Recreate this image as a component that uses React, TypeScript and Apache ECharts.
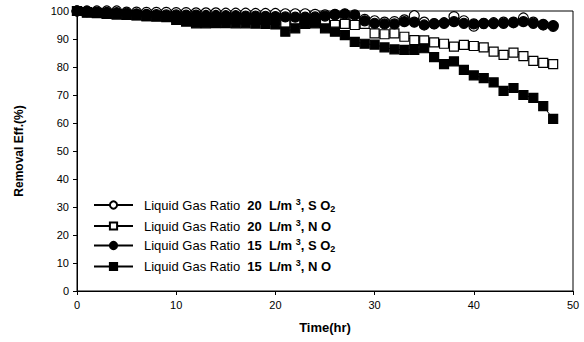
import React, { useEffect, useRef } from "react";
import * as echarts from "echarts";

const timeHr = [
  0, 1, 2, 3, 4, 5, 6, 7, 8, 9, 10, 11, 12, 13, 14, 15, 16, 17, 18, 19, 20, 21, 22, 23, 24,
  25, 26, 27, 28, 29, 30, 31, 32, 33, 34, 35, 36, 37, 38, 39, 40, 41, 42, 43, 44, 45, 46, 47, 48,
];

const so2Ratio20 = [
  100, 100, 100, 100, 100, 99.6, 99.6, 99.5, 99.5, 99.5, 99.4, 99.4, 99.3, 99.3, 99.3,
  99.2, 99.2, 99.2, 99.1, 99.1, 99.1, 99, 99, 99, 98.8, 98.6, 98.6, 98.4, 97.5, 97,
  96.5, 96, 96.2, 96.8, 98.3, 96, 95.5, 95.8, 98, 96.5, 94.6, 95.5, 95.8, 96, 96,
  97.5, 96, 95, 94.5,
];

const noRatio20 = [
  100, 99.6, 99.3, 99, 98.8, 98.6, 98.4, 98.2, 98, 97.8, 97.6, 97.4, 97.2, 97, 97,
  97, 97, 96.9, 96.9, 96.8, 96.8, 95.8, 96.8, 96.8, 96.2, 96.2, 95, 95.4, 95, 95.4,
  92, 91.7, 92, 90.8, 89.6, 89.5, 88.8, 88.3, 87.3, 87.9, 87.5, 87, 85.5, 84.3, 85.1,
  83.9, 82.2, 81.5, 81,
];

const so2Ratio15 = [
  100, 99.8, 99.6, 99.5, 99.4, 99.2, 99, 98.8, 98.7, 98.6, 98.6, 98.5, 98.5, 98.4, 98.4,
  98.3, 98.3, 98.2, 98.2, 98.1, 98, 97.9, 97.8, 97.8, 97.9, 98.2, 98.8, 99, 98.6, 96.5,
  95.6, 95.4, 95.4, 96.2, 96, 95, 95.4, 95.6, 96.2, 95.6, 95.4, 95.6, 95.5, 95.6, 95.8,
  96.2, 95.6, 95.2, 94.8,
];

const noRatio15 = [
  100, 99.4, 99.2, 99, 98.8, 98.6, 98.5, 98.2, 98.2, 98, 96.8, 96.2, 95.6, 95.6, 95.7,
  95.7, 95.6, 95.6, 95.5, 95.4, 95.2, 92.6, 93.8, 95.4, 95.6, 93.8, 92.6, 91.4, 89, 88.3,
  88, 87, 86.3, 86.1, 86.1, 86.7, 83.5, 81, 82, 79, 77, 76, 74.5, 71.5, 72.5,
  70, 69, 66, 61.5,
];

const seriesNames = [
  "Liquid Gas Ratio 20 L/m3, SO2",
  "Liquid Gas Ratio 20 L/m3, NO",
  "Liquid Gas Ratio 15 L/m3, SO2",
  "Liquid Gas Ratio 15 L/m3, NO",
];
const legendRich = [
  "{n|Liquid Gas Ratio  }{b|20  L/m }{sup|3}{b|, S O}{sub|2}",
  "{n|Liquid Gas Ratio  }{b|20  L/m }{sup|3}{b|, N O}",
  "{n|Liquid Gas Ratio  }{b|15  L/m }{sup|3}{b|, S O}{sub|2}",
  "{n|Liquid Gas Ratio  }{b|15  L/m }{sup|3}{b|, N O}",
];

const xTicks = [0, 10, 20, 30, 40, 50];
const yTicks = [0, 10, 20, 30, 40, 50, 60, 70, 80, 90, 100];

const FONT = "Liberation Sans, Arial, sans-serif";

export default function App() {
  const ref = useRef<HTMLDivElement>(null);
  useEffect(() => {
    if (!ref.current) return;
    const chart = echarts.init(ref.current, null, { renderer: "svg" });
    const toPairs = (vals: number[]) => timeHr.map((t, i) => [t, vals[i]]);
    const styles = [
      { data: so2Ratio20, symbol: "circle", fill: "#ffffff", size: 10 },
      { data: noRatio20, symbol: "rect", fill: "#ffffff", size: 9 },
      { data: so2Ratio15, symbol: "circle", fill: "#000000", size: 10 },
      { data: noRatio15, symbol: "rect", fill: "#000000", size: 9 },
    ];
    chart.setOption({
      animation: false,
      backgroundColor: "#ffffff",
      textStyle: { fontFamily: FONT },
      grid: {
        left: 77,
        right: 11,
        top: 11,
        bottom: 51,
        show: true,
        borderColor: "#000",
        borderWidth: 1,
      },
      legend: {
        orient: "vertical",
        left: 88,
        top: 192,
        itemWidth: 39,
        itemHeight: 9,
        itemGap: 5,
        data: seriesNames,
        formatter: (name: string) => legendRich[seriesNames.indexOf(name)],
        textStyle: {
          color: "#000",
          fontFamily: FONT,
          rich: {
            n: { fontSize: 13, color: "#000", fontFamily: FONT, lineHeight: 16, padding: [0, 0, 0, 6] },
            b: { fontSize: 13, fontWeight: "bold", color: "#000", fontFamily: FONT, lineHeight: 16 },
            sup: { fontSize: 9, fontWeight: "bold", color: "#000", fontFamily: FONT, verticalAlign: "top", lineHeight: 16 },
            sub: { fontSize: 9, fontWeight: "bold", color: "#000", fontFamily: FONT, verticalAlign: "bottom", lineHeight: 16 },
          },
        },
      },
      xAxis: {
        type: "value",
        min: xTicks[0],
        max: xTicks[xTicks.length - 1],
        interval: 10,
        name: "Time(hr)",
        nameLocation: "middle",
        nameGap: 30,
        nameTextStyle: { fontSize: 13, fontWeight: "bold", color: "#000", fontFamily: FONT },
        axisLine: { lineStyle: { color: "#000", width: 1 } },
        axisTick: { show: true, inside: false, length: 4, lineStyle: { color: "#000" } },
        axisLabel: { color: "#000", fontSize: 11, margin: 8, fontFamily: FONT },
        splitLine: { show: false },
      },
      yAxis: {
        type: "value",
        min: yTicks[0],
        max: yTicks[yTicks.length - 1],
        interval: 10,
        name: "Removal Eff.(%)",
        nameLocation: "middle",
        nameGap: 52,
        nameRotate: 90,
        nameTextStyle: { fontSize: 12, fontWeight: "bold", color: "#000", fontFamily: FONT },
        axisLine: { show: true, lineStyle: { color: "#000", width: 1 } },
        axisTick: { show: true, inside: false, length: 4, lineStyle: { color: "#000" } },
        axisLabel: { color: "#000", fontSize: 11, margin: 8, fontFamily: FONT },
        splitLine: { show: false },
      },
      series: styles.map((s, i) => ({
        type: "line",
        name: seriesNames[i],
        data: toPairs(s.data),
        symbol: s.symbol,
        symbolSize: s.size,
        showSymbol: true,
        lineStyle: { color: "#000", width: 1 },
        itemStyle: { color: s.fill, borderColor: "#000", borderWidth: 1.2 },
        emphasis: { disabled: true },
        z: 2 + i,
      })),
    });
    return () => chart.dispose();
  }, []);
  return (
    <div
      ref={ref}
      style={{ position: "fixed", left: 0, top: 0, width: 584, height: 342, background: "#fff" }}
    />
  );
}
